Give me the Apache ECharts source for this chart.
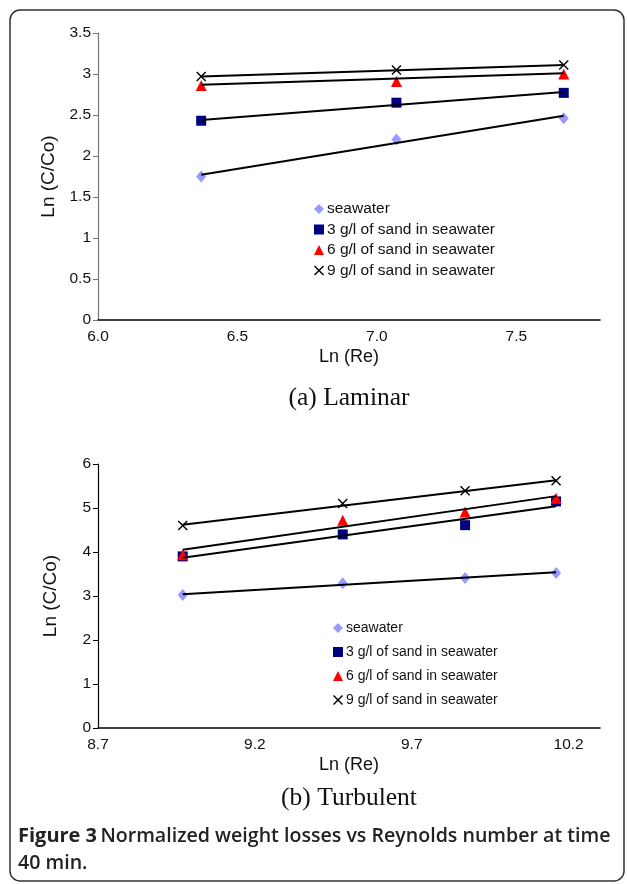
<!DOCTYPE html>
<html><head><meta charset="utf-8">
<script src="https://cdn.jsdelivr.net/npm/echarts@6/dist/echarts.min.js"></script>
<style>html,body{margin:0;padding:0;background:#fff}#c{width:627px;height:884px}</style>
</head><body><div id="c"></div>
<script>
// ---- Data ----
const seriesNames = ['seawater', '3 g/l of sand in seawater', '6 g/l of sand in seawater', '9 g/l of sand in seawater'];

// (a) Laminar
const lamX = [6.37, 7.07, 7.67];
const lamSea = [1.75, 2.20, 2.46];
const lam3 = [2.43, 2.65, 2.77];
const lam6 = [2.86, 2.91, 3.00];
const lam9 = [2.97, 3.05, 3.11];
// trend line end values at lamX[0] and lamX[2]
const lamTrendSea = [1.77, 2.49];
const lamTrend3 = [2.44, 2.78];
const lamTrend6 = [2.87, 3.01];
const lamTrend9 = [2.97, 3.11];

// (b) Turbulent
const turX = [8.97, 9.48, 9.87, 10.16];
const turSea = [3.02, 3.29, 3.41, 3.52];
const tur3 = [3.90, 4.40, 4.61, 5.15];
const tur6 = [3.94, 4.72, 4.91, 5.22];
const tur9 = [4.60, 5.10, 5.39, 5.62];
const turTrendSea = [3.04, 3.54];
const turTrend3 = [3.87, 5.04];
const turTrend6 = [4.05, 5.27];
const turTrend9 = [4.62, 5.63];

// axis ticks
const lamXAxis = {min: 6.0, max: 7.8, interval: 0.5};
const lamYAxis = {min: 0, max: 3.5, interval: 0.5};
const turXAxis = {min: 8.7, max: 10.3, interval: 0.5};
const turYAxis = {min: 0, max: 6, interval: 1};

// ---- Styles ----
const crossPath = 'path://M0,1 L1,0 L5,4 L9,0 L10,1 L6,5 L10,9 L9,10 L5,6 L1,10 L0,9 L4,5 Z';
const markerStyles = [
  {symbol: 'diamond', symbolSize: [10, 12], color: '#9999FF'},
  {symbol: 'rect', symbolSize: 10, color: '#000080'},
  {symbol: 'triangle', symbolSize: 11, color: '#FF0000'},
  {symbol: crossPath, symbolSize: 10, color: '#000000'}
];
const font = '"Liberation Sans", Arial, sans-serif';

function zip(xs, ys) { return xs.map((x, i) => [x, ys[i]]); }

function scatterSeries(idx, xs, ys, axisIdx) {
  const m = markerStyles[idx];
  return {
    name: seriesNames[idx], type: 'scatter', xAxisIndex: axisIdx, yAxisIndex: axisIdx,
    symbol: m.symbol, symbolSize: m.symbolSize,
    itemStyle: {color: m.color, opacity: 1},
    data: zip(xs, ys), z: 3
  };
}
function trendSeries(xs, ends, axisIdx) {
  return {
    type: 'line', xAxisIndex: axisIdx, yAxisIndex: axisIdx, showSymbol: false, symbol: 'none',
    lineStyle: {color: '#000', width: 2}, silent: true, z: 4,
    data: [[xs[0], ends[0]], [xs[xs.length - 1], ends[1]]]
  };
}

function xAxisCfg(a, idx, decimals) {
  return {
    type: 'value', gridIndex: idx, min: a.min, max: a.max, interval: a.interval,
    name: 'Ln (Re)', nameLocation: 'middle', nameGap: 28,
    nameTextStyle: {fontFamily: font, fontSize: 18, color: '#111'},
    axisLine: {show: true, lineStyle: {color: '#000', width: 1.5}},
    axisTick: {show: false}, splitLine: {show: false},
    axisLabel: {fontFamily: font, fontSize: 15.5, color: '#111', margin: 9, showMaxLabel: false,
      formatter: v => v.toFixed(decimals)}
  };
}
function yAxisCfg(a, idx, lineColor) {
  return {
    type: 'value', gridIndex: idx, min: a.min, max: a.max, interval: a.interval,
    name: 'Ln (C/Co)', nameLocation: 'middle', nameGap: 38, nameRotate: 90,
    nameTextStyle: {fontFamily: font, fontSize: 19, color: '#111'},
    axisLine: {show: true, lineStyle: {color: lineColor, width: 1.2}},
    axisTick: {show: true, inside: false, length: 5, lineStyle: {color: lineColor}},
    splitLine: {show: false},
    axisLabel: {fontFamily: font, fontSize: 15.5, color: '#111', margin: 7}
  };
}

const chart = echarts.init(document.getElementById('c'), null, {renderer: 'canvas'});
chart.setOption({
  backgroundColor: '#fff',
  animation: false,
  grid: [
    {left: 98, right: 27, top: 33, height: 287},
    {left: 98, right: 27, top: 464, height: 264}
  ],
  xAxis: [xAxisCfg(lamXAxis, 0, 1), xAxisCfg(turXAxis, 1, 1)],
  yAxis: [yAxisCfg(lamYAxis, 0, '#777'), yAxisCfg(turYAxis, 1, '#000')],
  legend: [
    {data: seriesNames, orient: 'vertical', left: 309, top: 196, itemWidth: 10, itemHeight: 10,
     itemGap: 4.5, textStyle: {fontFamily: font, fontSize: 15.5, color: '#111', padding: [0, 0, 0, -2]},
     selectedMode: false},
    {data: seriesNames, orient: 'vertical', left: 328, top: 616, itemWidth: 10, itemHeight: 10,
     itemGap: 10, textStyle: {fontFamily: font, fontSize: 14, color: '#111', padding: [0, 0, 0, -2]},
     selectedMode: false}
  ],
  series: [
    scatterSeries(0, lamX, lamSea, 0),
    scatterSeries(1, lamX, lam3, 0),
    scatterSeries(2, lamX, lam6, 0),
    scatterSeries(3, lamX, lam9, 0),
    trendSeries(lamX, lamTrendSea, 0),
    trendSeries(lamX, lamTrend3, 0),
    trendSeries(lamX, lamTrend6, 0),
    trendSeries(lamX, lamTrend9, 0),
    scatterSeries(0, turX, turSea, 1),
    scatterSeries(1, turX, tur3, 1),
    scatterSeries(2, turX, tur6, 1),
    scatterSeries(3, turX, tur9, 1),
    trendSeries(turX, turTrendSea, 1),
    trendSeries(turX, turTrend3, 1),
    trendSeries(turX, turTrend6, 1),
    trendSeries(turX, turTrend9, 1)
  ],
  graphic: [
    {type: 'rect', shape: {x: 10, y: 10, width: 614, height: 871, r: 10}, silent: true,
     style: {fill: null, stroke: '#333', lineWidth: 1.5}, z: -1},
    {type: 'text', style: {text: '(a) Laminar', x: 349, y: 398, align: 'center',
     verticalAlign: 'middle', font: '25.5px "Liberation Serif", "Times New Roman", serif', fill: '#111'}},
    {type: 'text', style: {text: '(b) Turbulent', x: 349, y: 798, align: 'center',
     verticalAlign: 'middle', font: '25.5px "Liberation Serif", "Times New Roman", serif', fill: '#111'}},
    {type: 'text', style: {
      x: 18, y: 823,
      text: '{b|Figure 3} {n|Normalized weight losses vs Reynolds number at time}\n{n|40 min.}',
      rich: {
        b: {fontFamily: '"Open Sans", sans-serif', fontWeight: 700, fontSize: 20, fill: '#222', lineHeight: 27},
        n: {fontFamily: '"Open Sans", sans-serif', fontWeight: 600, fontSize: 19.6, fill: '#222', lineHeight: 27}
      }
    }}
  ]
});
</script></body></html>
